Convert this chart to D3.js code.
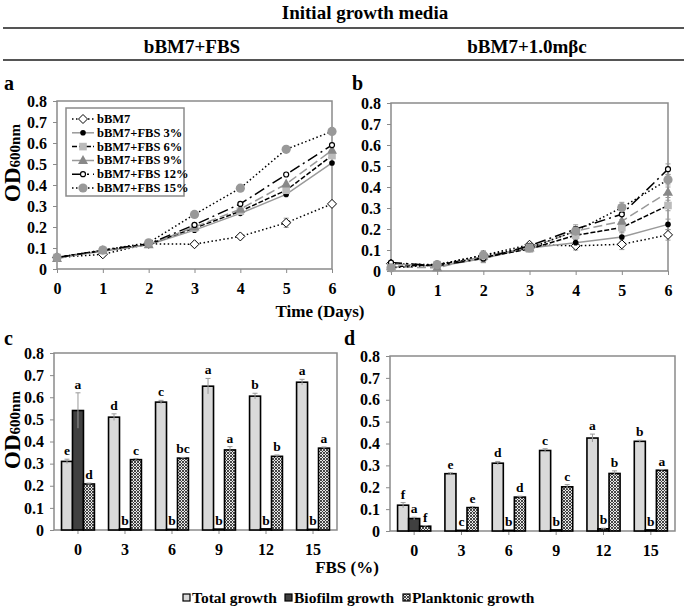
<!DOCTYPE html>
<html><head><meta charset="utf-8">
<script src="https://cdn.jsdelivr.net/npm/d3@7"></script>
<style>
body{margin:0;background:#fff;}
svg{display:block;}
svg text{font-family:"Liberation Serif","Times New Roman",serif;font-weight:bold;}
</style></head><body>
<svg id="chart" width="685" height="610"></svg>
<script>
// ---------- DATA ----------
const days = [0,1,2,3,4,5,6];
const seriesNames = ["bBM7","bBM7+FBS 3%","bBM7+FBS 6%","bBM7+FBS 9%","bBM7+FBS 12%","bBM7+FBS 15%"];
const yTicks = [0,0.1,0.2,0.3,0.4,0.5,0.6,0.7,0.8];
// panel a (bBM7+FBS)
const a_bBM7  = [0.055,0.070,0.120,0.118,0.155,0.220,0.310];
const a_fbs3  = [0.055,0.085,0.115,0.185,0.265,0.355,0.505];
const a_fbs6  = [0.055,0.088,0.118,0.195,0.275,0.375,0.540];
const a_fbs9  = [0.050,0.088,0.115,0.200,0.285,0.405,0.565];
const a_fbs12 = [0.055,0.090,0.120,0.210,0.310,0.450,0.590];
const a_fbs15 = [0.055,0.090,0.125,0.260,0.385,0.570,0.655];
const a_errBM7 = [0.003,0.005,0.005,0.005,0.008,0.022,0.005];
// panel b (bBM7+1.0mβc)
const b_bBM7  = [0.035,0.030,0.075,0.125,0.120,0.127,0.172];
const b_fbs3  = [0.035,0.022,0.060,0.110,0.135,0.162,0.222];
const b_fbs6  = [0.020,0.030,0.065,0.105,0.170,0.207,0.312];
const b_fbs9  = [0.020,0.015,0.070,0.110,0.190,0.237,0.375];
const b_fbs12 = [0.040,0.025,0.060,0.120,0.200,0.270,0.485];
const b_fbs15 = [0.015,0.030,0.075,0.110,0.190,0.302,0.435];
const b_err   = [0.005,0.005,0.02,0.008,0.02,0.025,0.025];
// panels c, d (bars)
const fbsLevels = ["0","3","6","9","12","15"];
const barSeries = ["Total growth","Biofilm growth","Planktonic growth"];
const c_total = [0.310,0.510,0.578,0.650,0.605,0.668];
const c_biofilm = [0.540,0.005,0.003,0.004,0.005,0.003];
const c_plank = [0.208,0.318,0.325,0.362,0.333,0.370];
const c_errTotal = [0.010,0.015,0.008,0.035,0.013,0.013];
const c_errBiofilm = [0.080,0,0,0,0,0];
const c_errPlank = [0.004,0.005,0.003,0.015,0.006,0.005];
const c_letters = [["e","a","d"],["d","b","c"],["c","b","bc"],["a","b","a"],["b","b","b"],["a","b","a"]];
const d_total = [0.118,0.262,0.310,0.368,0.425,0.410];
const d_biofilm = [0.057,0.003,0.003,0.005,0.010,0.005];
const d_plank = [0.022,0.107,0.155,0.202,0.263,0.278];
const d_errTotal = [0.012,0.004,0.008,0.008,0.018,0.005];
const d_errBiofilm = [0.006,0,0,0,0.003,0];
const d_errPlank = [0.003,0.005,0.004,0.010,0.012,0.003];
const d_letters = [["f","a","f"],["e","c","e"],["d","b","d"],["c","b","c"],["a","b","b"],["b","b","a"]];

// ---------- STYLES ----------
const FONT = "Liberation Serif, Times New Roman, serif";
const styles = [
  {stroke:"#000", dash:"1.5,2.5", marker:"diamond", fill:"#fff", mstroke:"#000"},
  {stroke:"#999", dash:null,      marker:"circleS", fill:"#000", mstroke:"#000"},
  {stroke:"#000", dash:"5,2",     marker:"square",  fill:"#bbb", mstroke:"#bbb"},
  {stroke:"#999", dash:"9,4",     marker:"triangle",fill:"#888", mstroke:"#888"},
  {stroke:"#000", dash:"11,4,2,4",marker:"circleO", fill:"#fff", mstroke:"#000"},
  {stroke:"#000", dash:"1.5,2.5", marker:"circleL", fill:"#999", mstroke:"#999"}
];
const frameColor = "#8a8a8a";
const svg = d3.select("#chart");
svg.append("rect").attr("width",685).attr("height",610).attr("fill","#fff");

const defs = svg.append("defs");
const pat = defs.append("pattern").attr("id","hatch").attr("patternUnits","userSpaceOnUse")
  .attr("width",3).attr("height",3);
pat.append("rect").attr("width",3).attr("height",3).attr("fill","#e8e8e8");
pat.append("path").attr("d","M0,0L3,3M3,0L0,3").attr("stroke","#333").attr("stroke-width",0.9);

// ---------- HEADER ----------
svg.append("text").attr("x",365).attr("y",19).attr("text-anchor","middle").attr("font-size",19).text("Initial growth media");
svg.append("line").attr("x1",3).attr("x2",684).attr("y1",28).attr("y2",28).attr("stroke","#555").attr("stroke-width",1.8);
svg.append("text").attr("x",192).attr("y",53).attr("text-anchor","middle").attr("font-size",19).text("bBM7+FBS");
svg.append("text").attr("x",527).attr("y",53).attr("text-anchor","middle").attr("font-size",19).text("bBM7+1.0mβc");
svg.append("line").attr("x1",3).attr("x2",684).attr("y1",60).attr("y2",60).attr("stroke","#555").attr("stroke-width",1.8);

const panelLetter = (x,y,t)=>svg.append("text").attr("x",x).attr("y",y).attr("font-size",20).text(t);
panelLetter(4,90,"a"); panelLetter(352,90,"b"); panelLetter(4,345,"c"); panelLetter(344,345,"d");

function yTitle(x,y){
  const t = svg.append("text").attr("transform",`translate(${x},${y}) rotate(-90)`).attr("text-anchor","middle");
  t.append("tspan").attr("font-size",23).text("OD");
  t.append("tspan").attr("font-size",15).text("600nm");
}
yTitle(20,163); yTitle(20,430);

function frame(x0,x1,y0,y1){
  svg.append("rect").attr("x",x0).attr("y",y1).attr("width",x1-x0).attr("height",y0-y1)
    .attr("fill","none").attr("stroke",frameColor).attr("stroke-width",1.5);
}
function styleAxis(g){
  g.attr("font-family",FONT).attr("font-size",16).attr("font-weight","bold");
  g.select(".domain").remove();
  g.selectAll(".tick line").attr("stroke",frameColor);
  g.selectAll("text").attr("fill","#000").attr("font-family",FONT);
}
function yAxis(y,x0){
  const g = svg.append("g").attr("transform",`translate(${x0},0)`)
    .call(d3.axisLeft(y).tickValues(yTicks).tickSize(4).tickPadding(6).tickFormat(d=>d===0?"0":d3.format(".1f")(d)));
  styleAxis(g);
}

// ---------- LINE PANELS ----------
function marker(g,type,x,y,st){
  if(type==="diamond"){
    g.append("path").attr("d",`M${x},${y-4.5}L${x+4.5},${y}L${x},${y+4.5}L${x-4.5},${y}Z`).attr("fill",st.fill).attr("stroke",st.mstroke).attr("stroke-width",1);
  } else if(type==="circleS"){
    g.append("circle").attr("cx",x).attr("cy",y).attr("r",2.8).attr("fill",st.fill);
  } else if(type==="square"){
    g.append("rect").attr("x",x-3.8).attr("y",y-3.8).attr("width",7.6).attr("height",7.6).attr("fill",st.fill);
  } else if(type==="triangle"){
    g.append("path").attr("d",`M${x},${y-5.5}L${x+5},${y+3.5}L${x-5},${y+3.5}Z`).attr("fill",st.fill);
  } else if(type==="circleO"){
    g.append("circle").attr("cx",x).attr("cy",y).attr("r",2.5).attr("fill",st.fill).attr("stroke",st.mstroke).attr("stroke-width",1.2);
  } else if(type==="circleL"){
    g.append("circle").attr("cx",x).attr("cy",y).attr("r",4.6).attr("fill",st.fill);
  }
}
function linePanel(x0,x1,y0,y1,series,errs){
  const x = d3.scaleLinear().domain([0,6]).range([x0,x1]);
  const y = d3.scaleLinear().domain([0,0.8]).range([y0,y1]);
  frame(x0,x1,y0,y1);
  yAxis(y,x0);
  const gx = svg.append("g").attr("transform",`translate(0,${y0})`)
    .call(d3.axisBottom(x).tickValues(days).tickSize(4).tickPadding(10).tickFormat(d3.format("d")));
  styleAxis(gx);
  const g = svg.append("g");
  series.forEach((vals,i)=>{
    const e = errs[i];
    if(!e) return;
    vals.forEach((v,j)=>{
      if(e[j]<=0.004) return;
      g.append("line").attr("x1",x(days[j])).attr("x2",x(days[j])).attr("y1",y(v-e[j])).attr("y2",y(v+e[j])).attr("stroke","#999").attr("stroke-width",1);
      [v-e[j],v+e[j]].forEach(t=>g.append("line").attr("x1",x(days[j])-2.5).attr("x2",x(days[j])+2.5).attr("y1",y(t)).attr("y2",y(t)).attr("stroke","#999").attr("stroke-width",1));
    });
  });
  const line = d3.line().x((d,j)=>x(days[j])).y(d=>y(d));
  series.forEach((vals,i)=>{
    const st = styles[i];
    g.append("path").attr("d",line(vals)).attr("fill","none").attr("stroke",st.stroke).attr("stroke-width",1.5)
      .attr("stroke-dasharray",st.dash);
  });
  series.forEach((vals,i)=>{
    vals.forEach((v,j)=>marker(g,styles[i].marker,x(days[j]),y(v),styles[i]));
  });
}
linePanel(57,332,269,101,[a_bBM7,a_fbs3,a_fbs6,a_fbs9,a_fbs12,a_fbs15],[a_errBM7,null,null,null,null,null]);
linePanel(391,668,271,103,[b_bBM7,b_fbs3,b_fbs6,b_fbs9,b_fbs12,b_fbs15],[b_err,b_err,b_err,b_err,b_err,b_err]);

// legend in panel a
const lg = svg.append("g");
lg.append("rect").attr("x",66).attr("y",108).attr("width",118).attr("height",88).attr("fill","#fff").attr("stroke",frameColor).attr("stroke-width",1.5);
seriesNames.forEach((n,i)=>{
  const yy = 119 + i*13.8;
  const st = styles[i];
  lg.append("line").attr("x1",72).attr("x2",94).attr("y1",yy).attr("y2",yy).attr("stroke",st.stroke).attr("stroke-width",1.5).attr("stroke-dasharray",st.dash);
  marker(lg,st.marker,83,yy,st);
  lg.append("text").attr("x",97).attr("y",yy+4).attr("font-size",12.5).text(n);
});
svg.append("text").attr("x",320).attr("y",317).attr("text-anchor","middle").attr("font-size",17).text("Time (Days)");

// ---------- BAR PANELS ----------
function barPanel(x0,x1,y0,y1,tot,bio,pl,eT,eB,eP,letters){
  const x = d3.scaleBand().domain(fbsLevels).range([x0,x1]).paddingInner(0.3).paddingOuter(0.16);
  const xs = d3.scaleBand().domain(barSeries).range([0,x.bandwidth()]);
  const y = d3.scaleLinear().domain([0,0.8]).range([y0,y1]);
  frame(x0,x1,y0,y1);
  yAxis(y,x0);
  const gx = svg.append("g").attr("transform",`translate(0,${y0})`).call(d3.axisBottom(x).tickSize(4).tickPadding(10));
  styleAxis(gx);
  const fills = ["#d9d9d9","#404040","url(#hatch)"];
  const vals = [tot,bio,pl], errs=[eT,eB,eP];
  const g = svg.append("g");
  fbsLevels.forEach((lvl,i)=>{
    barSeries.forEach((s,k)=>{
      const v = vals[k][i], e = errs[k][i];
      const bx = x(lvl)+xs(s), bw = xs.bandwidth();
      g.append("rect").attr("x",bx).attr("y",y(v)).attr("width",bw).attr("height",y0-y(v))
        .attr("fill",fills[k]).attr("stroke","#000").attr("stroke-width",1.6);
      if(e>0){
        const cx = bx+bw/2;
        g.append("line").attr("x1",cx).attr("x2",cx).attr("y1",y(v-e)).attr("y2",y(v+e)).attr("stroke","#999").attr("stroke-width",1);
        g.append("line").attr("x1",cx-2.5).attr("x2",cx+2.5).attr("y1",y(v+e)).attr("y2",y(v+e)).attr("stroke","#999").attr("stroke-width",1);
      }
      g.append("text").attr("x",bx+bw/2).attr("y",y(v+e)-4).attr("text-anchor","middle").attr("font-size",13.5).text(letters[i][k]);
    });
  });
}
barPanel(54,337,530,353,c_total,c_biofilm,c_plank,c_errTotal,c_errBiofilm,c_errPlank,c_letters);
barPanel(390,675,531,356,d_total,d_biofilm,d_plank,d_errTotal,d_errBiofilm,d_errPlank,d_letters);
svg.append("text").attr("x",347).attr("y",573).attr("text-anchor","middle").attr("font-size",17).text("FBS (%)");

// bottom legend
const bfills = ["#d9d9d9","#404040","url(#hatch)"];
const bx = [183,285,403];
barSeries.forEach((s,k)=>{
  svg.append("rect").attr("x",bx[k]).attr("y",594).attr("width",7).attr("height",7).attr("fill",bfills[k]).attr("stroke","#000").attr("stroke-width",1.2);
  svg.append("text").attr("x",bx[k]+9).attr("y",603).attr("font-size",15.5).text(s);
});
</script></body></html>
